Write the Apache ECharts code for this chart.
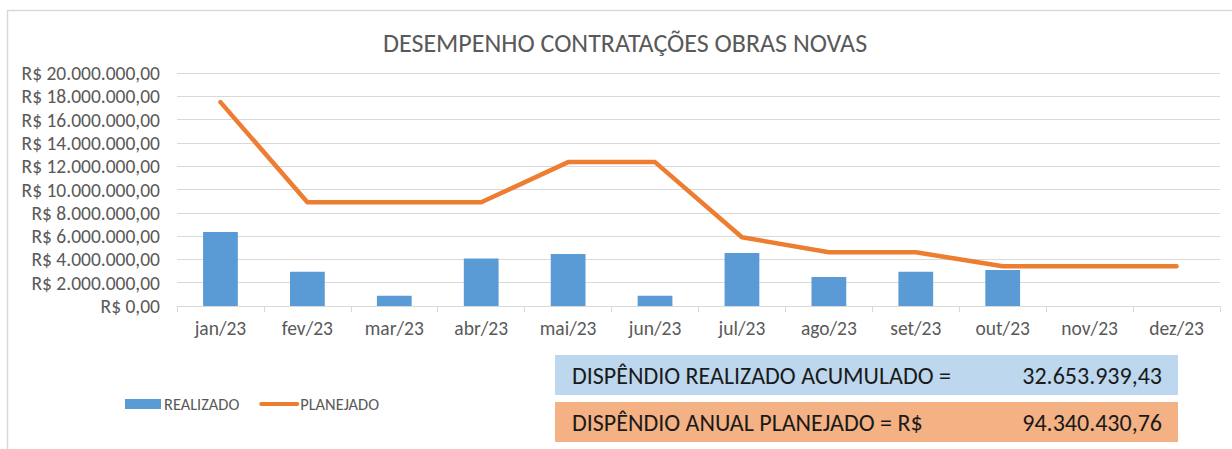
<!DOCTYPE html>
<html>
<head>
<meta charset="utf-8">
<script src="https://cdn.jsdelivr.net/npm/echarts@6/dist/echarts.min.js"></script>
<style>
html,body{margin:0;padding:0;background:#fff;}
#chart{width:1232px;height:449px;}
</style>
</head>
<body>
<div id="chart"></div>
<script>
const chartTitle = 'DESEMPENHO CONTRATAÇÕES OBRAS NOVAS';
const categories = ['jan/23','fev/23','mar/23','abr/23','mai/23','jun/23','jul/23','ago/23','set/23','out/23','nov/23','dez/23'];
const realizado = [6350000, 2950000, 880000, 4080000, 4460000, 880000, 4550000, 2490000, 2940000, 3100000, null, null];
const planejado = [17500000, 8900000, 8900000, 8900000, 12350000, 12350000, 5900000, 4620000, 4620000, 3410000, 3410000, 3410000];
const seriesNames = ['REALIZADO', 'PLANEJADO'];
const yMin = 0, yMax = 20000000, yStep = 2000000;
const box1Label = 'DISPÊNDIO REALIZADO ACUMULADO =';
const box1Value = '32.653.939,43';
const box2Label = 'DISPÊNDIO ANUAL PLANEJADO = R$';
const box2Value = '94.340.430,76';

const FONT = "Carlito, 'Liberation Sans', Arial, sans-serif";
function brl(v){
  const fixed = Math.abs(v).toFixed(2);
  let [intPart, dec] = fixed.split('.');
  intPart = intPart.replace(/\B(?=(\d{3})+(?!\d))/g, '.');
  return 'R$ ' + intPart + ',' + dec;
}

const chart = echarts.init(document.getElementById('chart'), null, {renderer: 'svg'});
chart.setOption({
  animation: false,
  backgroundColor: '#ffffff',
  textStyle: {fontFamily: FONT},
  title: {
    text: chartTitle,
    left: 378,
    top: 25,
    textStyle: {fontFamily: FONT, fontSize: 26, fontWeight: 'normal', color: '#595959'}
  },
  grid: {left: 177, right: 12, top: 73, height: 233},
  legend: {
    left: 120, top: 391,
    itemWidth: 36, itemHeight: 10, itemGap: 20,
    textStyle: {fontFamily: FONT, fontSize: 16.4, color: '#595959', padding: [0,0,0,-2]},
    data: [
      {name: seriesNames[0], icon: 'rect'},
      {name: seriesNames[1], itemStyle: {opacity: 0}, lineStyle: {width: 4, color: '#ED7D31'}}
    ]
  },
  xAxis: {
    type: 'category',
    data: categories,
    boundaryGap: true,
    axisLine: {lineStyle: {color: '#d9d9d9', width: 1}},
    axisTick: {show: true, length: 6, lineStyle: {color: '#d9d9d9'}},
    axisLabel: {fontFamily: FONT, fontSize: 19.5, color: '#595959', margin: 12}
  },
  yAxis: {
    type: 'value',
    min: yMin, max: yMax, interval: yStep,
    axisLine: {show: false},
    axisTick: {show: false},
    splitLine: {lineStyle: {color: '#d9d9d9', width: 1}},
    axisLabel: {fontFamily: FONT, fontSize: 19.5, color: '#595959', margin: 17, formatter: v => brl(v)}
  },
  series: [
    {
      name: seriesNames[0],
      type: 'bar',
      data: realizado,
      barWidth: '40%',
      itemStyle: {color: '#5B9BD5'}
    },
    {
      name: seriesNames[1],
      type: 'line',
      data: planejado,
      symbol: 'none',
      lineStyle: {color: '#ED7D31', width: 4.5, cap: 'round', join: 'round'},
      itemStyle: {color: '#ED7D31'}
    }
  ],
  graphic: [
    {type: 'rect', silent: true, shape: {x: 7.5, y: 10.5, width: 1400, height: 600}, style: {fill: 'none', stroke: '#d9d9d9', lineWidth: 1.5}},
    {type: 'rect', silent: true, shape: {x: 555, y: 355, width: 623, height: 40}, style: {fill: '#BDD7EE'}},
    {type: 'rect', silent: true, shape: {x: 555, y: 402, width: 623, height: 40}, style: {fill: '#F4B183'}},
    {type: 'text', silent: true, x: 572, y: 375, style: {text: box1Label, fill: '#1a1a1a', font: "24px " + FONT, textVerticalAlign: 'middle', verticalAlign: 'middle'}},
    {type: 'text', silent: true, x: 1162, y: 375, style: {text: box1Value, fill: '#1a1a1a', font: "24px " + FONT, align: 'right', textAlign: 'right', verticalAlign: 'middle', textVerticalAlign: 'middle'}},
    {type: 'text', silent: true, x: 572, y: 422, style: {text: box2Label, fill: '#1a1a1a', font: "24px " + FONT, textVerticalAlign: 'middle', verticalAlign: 'middle'}},
    {type: 'text', silent: true, x: 1162, y: 422, style: {text: box2Value, fill: '#1a1a1a', font: "24px " + FONT, align: 'right', textAlign: 'right', verticalAlign: 'middle', textVerticalAlign: 'middle'}}
  ]
});
</script>
</body>
</html>
